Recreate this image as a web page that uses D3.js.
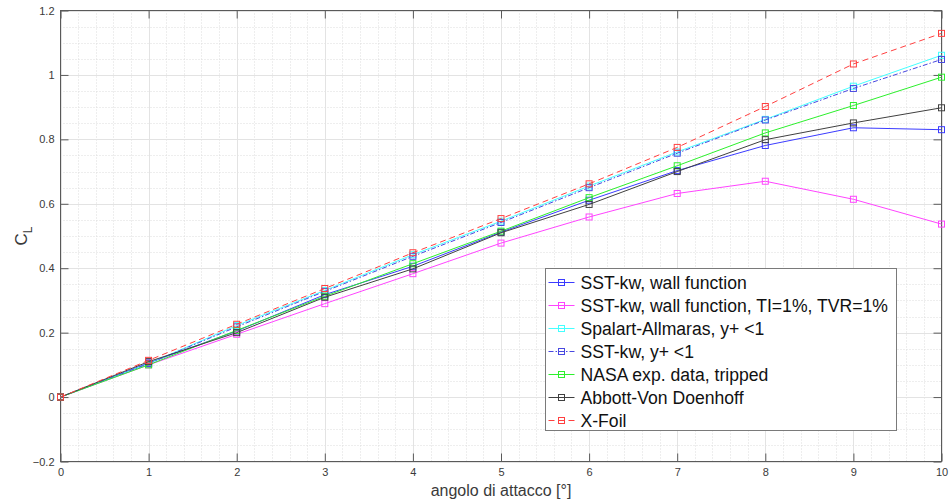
<!DOCTYPE html>
<html>
<head>
<meta charset="utf-8">
<script src="https://cdn.jsdelivr.net/npm/d3@7"></script>
<style>
  html, body { margin: 0; padding: 0; background: #fff; }
  svg { display: block; font-family: "Liberation Sans", Arial, Helvetica, sans-serif; }
</style>
</head>
<body>
<svg id="chart" width="949" height="504"></svg>
<script>
// Angle of attack [deg]
const alpha = [0, 1, 2, 3, 4, 5, 6, 7, 8, 9, 10];

// Lift coefficient for each case
const sstWall      = [0, 0.106, 0.205, 0.318, 0.406, 0.512, 0.611, 0.703, 0.781, 0.836, 0.830];
const sstWallTI    = [0, 0.100, 0.195, 0.290, 0.383, 0.478, 0.559, 0.632, 0.670, 0.614, 0.537];
const spalart      = [0, 0.104, 0.222, 0.331, 0.442, 0.546, 0.655, 0.761, 0.862, 0.965, 1.061];
const sstYplus     = [0, 0.104, 0.218, 0.328, 0.437, 0.542, 0.650, 0.757, 0.860, 0.958, 1.048];
const nasaTripped  = [0, 0.100, 0.207, 0.313, 0.414, 0.515, 0.619, 0.718, 0.820, 0.905, 0.993];
const abbott       = [0, 0.110, 0.200, 0.310, 0.398, 0.510, 0.598, 0.700, 0.799, 0.851, 0.898];
const xfoil        = [0, 0.114, 0.226, 0.337, 0.448, 0.554, 0.662, 0.775, 0.902, 1.034, 1.129];

const seriesNames = [
  "SST-kw, wall function",
  "SST-kw, wall function, TI=1%, TVR=1%",
  "Spalart-Allmaras, y+ <1",
  "SST-kw, y+ <1",
  "NASA exp. data, tripped",
  "Abbott-Von Doenhoff",
  "X-Foil"
];
const seriesValues = [sstWall, sstWallTI, spalart, sstYplus, nasaTripped, abbott, xfoil];
const seriesColors = ["#3b3bff", "#ff44ff", "#44ffff", "#4848e0", "#2cf02c", "#404040", "#ff4040"];
const seriesDash   = [null, null, null, "5,2,1.5,2", null, null, "6,4"];

const xTicks = [0, 1, 2, 3, 4, 5, 6, 7, 8, 9, 10];
const yTicks = [-0.2, 0, 0.2, 0.4, 0.6, 0.8, 1, 1.2];
const xLabel = "angolo di attacco [°]";

const svg = d3.select("#chart");
const plot = { left: 60.5, top: 10.5, right: 941.5, bottom: 461.5 };

const x = d3.scaleLinear().domain([0, 10]).range([plot.left, plot.right]);
const y = d3.scaleLinear().domain([-0.2, 1.2]).range([plot.bottom, plot.top]);

const g = svg.append("g");

// minor grid (dotted)
const xMinor = d3.range(0, 10.001, 0.2).filter(v => Math.abs(v - Math.round(v)) > 1e-6);
const yMinor = d3.range(-0.2, 1.2001, 0.05).filter(v => Math.abs(v * 5 - Math.round(v * 5)) > 1e-6);
g.selectAll(".xminor").data(xMinor).join("line")
  .attr("x1", d => Math.round(x(d)) + 0.5).attr("x2", d => Math.round(x(d)) + 0.5)
  .attr("y1", plot.top).attr("y2", plot.bottom)
  .attr("stroke", "#dcdcdc").attr("stroke-width", 1).attr("stroke-dasharray", "1,2");
g.selectAll(".yminor").data(yMinor).join("line")
  .attr("y1", d => Math.round(y(d)) + 0.5).attr("y2", d => Math.round(y(d)) + 0.5)
  .attr("x1", plot.left).attr("x2", plot.right)
  .attr("stroke", "#dcdcdc").attr("stroke-width", 1).attr("stroke-dasharray", "1,2");

// major grid (solid)
g.selectAll(".xmajor").data(xTicks).join("line")
  .attr("x1", d => Math.round(x(d)) + 0.5).attr("x2", d => Math.round(x(d)) + 0.5)
  .attr("y1", plot.top).attr("y2", plot.bottom)
  .attr("stroke", "#e3e3e3").attr("stroke-width", 1);
g.selectAll(".ymajor").data(yTicks).join("line")
  .attr("y1", d => Math.round(y(d)) + 0.5).attr("y2", d => Math.round(y(d)) + 0.5)
  .attr("x1", plot.left).attr("x2", plot.right)
  .attr("stroke", "#e3e3e3").attr("stroke-width", 1);

// axes with inward ticks on all four sides
const axisColor = "#5a5a5a";
const fmt = d => d3.format("~g")(d);
function styleAxis(sel) {
  sel.select(".domain").remove();
  sel.selectAll(".tick line").attr("stroke", axisColor);
  sel.selectAll(".tick text").attr("fill", "#3a3a3a").attr("font-size", 11);
}
svg.append("g").attr("transform", `translate(0,${plot.bottom})`)
  .call(d3.axisBottom(x).tickValues(xTicks).tickFormat(fmt).tickSizeInner(-8).tickSizeOuter(0).tickPadding(7))
  .call(styleAxis);
svg.append("g").attr("transform", `translate(0,${plot.top})`)
  .call(d3.axisTop(x).tickValues(xTicks).tickFormat("").tickSizeInner(-8).tickSizeOuter(0))
  .call(styleAxis);
svg.append("g").attr("transform", `translate(${plot.left},0)`)
  .call(d3.axisLeft(y).tickValues(yTicks).tickFormat(fmt).tickSizeInner(-8).tickSizeOuter(0).tickPadding(6))
  .call(styleAxis);
svg.append("g").attr("transform", `translate(${plot.right},0)`)
  .call(d3.axisRight(y).tickValues(yTicks).tickFormat("").tickSizeInner(-8).tickSizeOuter(0))
  .call(styleAxis);

svg.append("rect")
  .attr("x", plot.left).attr("y", plot.top)
  .attr("width", plot.right - plot.left).attr("height", plot.bottom - plot.top)
  .attr("fill", "none").attr("stroke", axisColor).attr("stroke-width", 1);

// series lines and square markers
const line = d3.line().x((d, i) => x(alpha[i])).y(d => y(d));
seriesValues.forEach((vals, k) => {
  const sg = svg.append("g");
  sg.append("path").datum(vals)
    .attr("d", line)
    .attr("fill", "none")
    .attr("stroke", seriesColors[k])
    .attr("stroke-width", 1)
    .attr("stroke-dasharray", seriesDash[k]);
  sg.selectAll("rect").data(vals).join("rect")
    .attr("x", (d, i) => x(alpha[i]) - 3)
    .attr("y", d => y(d) - 3)
    .attr("width", 6).attr("height", 6)
    .attr("fill", "none")
    .attr("stroke", seriesColors[k])
    .attr("stroke-width", 1);
});

// axis titles
svg.append("text")
  .attr("x", (plot.left + plot.right) / 2).attr("y", 496)
  .attr("text-anchor", "middle")
  .attr("font-size", 16).attr("fill", "#3a3a3a")
  .text(xLabel);

const yt = svg.append("text")
  .attr("transform", `translate(27,${(plot.top + plot.bottom) / 2}) rotate(-90)`)
  .attr("text-anchor", "middle")
  .attr("font-size", 17).attr("fill", "#3a3a3a");
yt.append("tspan").text("C");
yt.append("tspan").attr("font-size", 12).attr("dy", 5).text("L");

// legend
const legend = svg.append("g").attr("transform", "translate(545.5,268.5)");
legend.append("rect")
  .attr("width", 351).attr("height", 162)
  .attr("fill", "#fff").attr("stroke", "#7a7a7a").attr("stroke-width", 1);
const rowH = 23;
seriesNames.forEach((name, k) => {
  const ry = 14 + k * rowH;
  const row = legend.append("g").attr("transform", `translate(0,${ry})`);
  row.append("line")
    .attr("x1", 3).attr("x2", 29).attr("y1", 0).attr("y2", 0)
    .attr("stroke", seriesColors[k]).attr("stroke-width", 1)
    .attr("stroke-dasharray", seriesDash[k]);
  row.append("rect")
    .attr("x", 13).attr("y", -3).attr("width", 6).attr("height", 6)
    .attr("fill", "none").attr("stroke", seriesColors[k]).attr("stroke-width", 1);
  row.append("text")
    .attr("x", 35).attr("y", 0).attr("dy", "0.35em")
    .attr("font-size", 17.6).attr("fill", "#111")
    .text(name);
});
</script>
</body>
</html>
